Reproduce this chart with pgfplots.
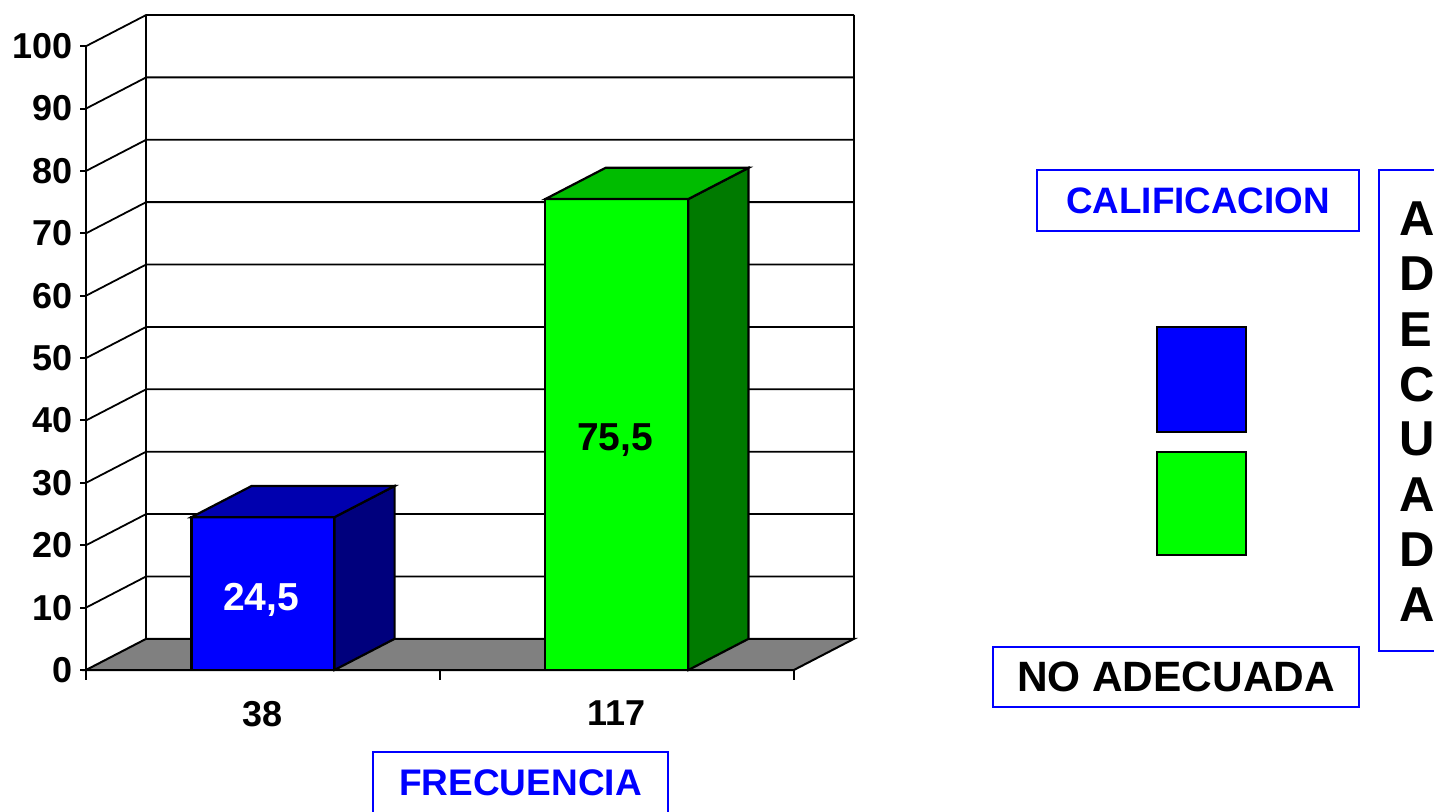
\documentclass[border=0pt]{standalone}
\usepackage{pgfplots}
\pgfplotsset{compat=1.18}
\usepackage{fontspec}
\setmainfont{Liberation Sans}

\definecolor{frontblue}{RGB}{0,0,255}
\definecolor{topblue}{RGB}{0,0,175}
\definecolor{sideblue}{RGB}{0,0,125}
\definecolor{frontgreen}{RGB}{0,255,0}
\definecolor{topgreen}{RGB}{0,188,0}
\definecolor{sidegreen}{RGB}{0,122,0}
\definecolor{floorgray}{RGB}{128,128,128}

\newcommand\F[1]{\fontsize{#1}{#1}\selectfont\bfseries}

\begin{document}
\begin{tikzpicture}[x=1pt,y=1pt]
\useasboundingbox (0,0) rectangle (717,405.5);
\clip (0,0) rectangle (717,405.5);

\begin{axis}[
  at={(43pt,70.5pt)}, anchor=south west,
  scale only axis, width=384pt, height=327.5pt,
  xmin=-0.5, xmax=1.67, ymin=0, ymax=105,
  clip=false,
  axis x line*=bottom, axis y line*=left,
  x axis line style={draw=none}, y axis line style={draw=none},
  tick align=outside,
  tick style={black, line width=1pt},
  ytick={0,10,...,100},
  major tick length=3pt,
  xtick={0,1}, xticklabels={38,117},
  x tick style={draw=none},
  x tick label style={yshift=-9pt},
  /pgf/number format/assume math mode=true,
  ticklabel style={font=\F{18}},
]
% back wall and left wall grid lines
\addplot[black, line width=0.9pt] coordinates {(-0.5,10)(-0.33,15)(1.67,15)};
\addplot[black, line width=0.9pt] coordinates {(-0.5,20)(-0.33,25)(1.67,25)};
\addplot[black, line width=0.9pt] coordinates {(-0.5,30)(-0.33,35)(1.67,35)};
\addplot[black, line width=0.9pt] coordinates {(-0.5,40)(-0.33,45)(1.67,45)};
\addplot[black, line width=0.9pt] coordinates {(-0.5,50)(-0.33,55)(1.67,55)};
\addplot[black, line width=0.9pt] coordinates {(-0.5,60)(-0.33,65)(1.67,65)};
\addplot[black, line width=0.9pt] coordinates {(-0.5,70)(-0.33,75)(1.67,75)};
\addplot[black, line width=0.9pt] coordinates {(-0.5,80)(-0.33,85)(1.67,85)};
\addplot[black, line width=0.9pt] coordinates {(-0.5,90)(-0.33,95)(1.67,95)};
\addplot[black, line width=0.9pt] coordinates {(-0.5,100)(-0.33,105)(1.67,105)};
\addplot[black, line width=0.9pt] coordinates {(-0.33,5)(-0.33,105)};
\addplot[black, line width=0.9pt] coordinates {(1.67,5)(1.67,105)};
% floor
\addplot[fill=floorgray, draw=black, line width=1pt] coordinates {(-0.5,0)(1.5,0)(1.67,5)(-0.33,5)} -- cycle;
% y axis and category separators
\addplot[black, line width=1pt] coordinates {(-0.5,0)(-0.5,100)};
\addplot[black, line width=1pt] coordinates {(-0.5,0)(-0.5,-1.6)};
\addplot[black, line width=1pt] coordinates {(0.5,0)(0.5,-1.6)};
\addplot[black, line width=1pt] coordinates {(1.5,0)(1.5,-1.6)};

% bar 1: 24.5
\addplot[fill=frontblue, draw=black, line width=1.1pt] coordinates {(-0.202,0)(0.202,0)(0.202,24.5)(-0.202,24.5)} -- cycle;
\addplot[fill=sideblue, draw=black, line width=1.1pt] coordinates {(0.202,0)(0.372,5)(0.372,29.5)(0.202,24.5)} -- cycle;
\addplot[fill=topblue, draw=black, line width=1.1pt] coordinates {(-0.202,24.5)(0.202,24.5)(0.372,29.5)(-0.032,29.5)} -- cycle;
% bar 2: 75.5
\addplot[fill=frontgreen, draw=black, line width=1.1pt] coordinates {(0.798,0)(1.202,0)(1.202,75.5)(0.798,75.5)} -- cycle;
\addplot[fill=sidegreen, draw=black, line width=1.1pt] coordinates {(1.202,0)(1.372,5)(1.372,80.5)(1.202,75.5)} -- cycle;
\addplot[fill=topgreen, draw=black, line width=1.1pt] coordinates {(0.798,75.5)(1.202,75.5)(1.372,80.5)(0.968,80.5)} -- cycle;

\node[text=white, font=\F{19.5}] at (axis cs:-0.005,11.3) {24,5};
\node[text=black, font=\F{19.5}] at (axis cs:0.995,36.8) {75,5};
\end{axis}

% axis title
\draw[frontblue, line width=1.2pt] (186.5,-5) rectangle (334,29.5);
\node[text=frontblue, font=\F{18.5}] at (260.25,14) {FRECUENCIA};

% legend
\node[draw=frontblue, line width=1.2pt, minimum width=161pt, minimum height=30.5pt,
      text=frontblue, font=\F{18.4}] at (599,305.25) {CALIFICACION};
\node[draw=black, line width=1pt, fill=frontblue, minimum width=44.5pt, minimum height=52.5pt,
      inner sep=0pt] at (600.75,215.75) {};
\node[draw=black, line width=1pt, fill=frontgreen, minimum width=44.5pt, minimum height=51.5pt,
      inner sep=0pt] at (600.75,153.75) {};
\node[draw=frontblue, line width=1.2pt, minimum width=183pt, minimum height=30pt,
      text=black, font=\F{21.2}] at (588,67) {NO ADECUADA};

% vertical label box
\draw[frontblue, line width=1.2pt] (689.5,80) rectangle (760,320.5);
\foreach \l [count=\i from 0] in {A,D,E,C,U,A,D,A}
  \node[anchor=west, inner sep=0pt, font=\F{24.5}] at (699.5, 296-27.54*\i) {\l};

\path (0,0) rectangle (717,405.5);
\end{tikzpicture}
\end{document}
